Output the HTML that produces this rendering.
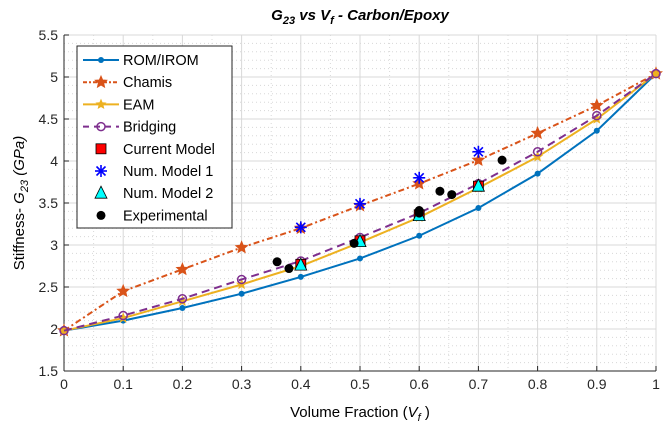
<!DOCTYPE html>
<html><head><meta charset="utf-8"><style>
body{margin:0;background:#fff;}
svg{display:block;font-family:"Liberation Sans",Arial,sans-serif;}
</style></head><body>
<svg id="chart" width="668" height="432" viewBox="0 0 668 432" xmlns="http://www.w3.org/2000/svg">
<text x="360" y="20" text-anchor="middle" font-size="15" font-weight="bold" font-style="italic">G<tspan font-size="11" dy="4">23</tspan><tspan dy="-4"> vs V</tspan><tspan font-size="11" dy="4">f</tspan><tspan dy="-4">  -  Carbon/Epoxy</tspan></text>
<g id="grid"></g>
<g id="axes"></g>
<g id="series"></g>
<text x="360" y="417" text-anchor="middle" font-size="15">Volume Fraction (<tspan font-style="italic">V</tspan><tspan font-style="italic" font-size="11" dy="4">f</tspan><tspan dy="-4"> )</tspan></text>
<text transform="translate(24,203) rotate(-90)" text-anchor="middle" font-size="15">Stiffness- <tspan font-style="italic">G</tspan><tspan font-style="italic" font-size="11" dy="4">23</tspan><tspan dy="-4" font-style="italic"> (GPa)</tspan></text>
<g id="legend"></g>
</svg>
<script>
const vf=[0,0.1,0.2,0.3,0.4,0.5,0.6,0.7,0.8,0.9,1];
const romIrom=[1.98,2.10,2.25,2.42,2.62,2.84,3.11,3.44,3.85,4.36,5.04];
const chamis=[1.98,2.45,2.71,2.97,3.20,3.47,3.73,4.01,4.33,4.66,5.04];
const eam=[1.98,2.13,2.33,2.53,2.75,3.03,3.33,3.68,4.05,4.50,5.04];
const bridging=[1.98,2.16,2.36,2.59,2.81,3.09,3.38,3.73,4.11,4.54,5.04];
const modelVf=[0.4,0.5,0.6,0.7];
const currentModel=[2.77,3.05,3.36,3.70];
const numModel1=[3.21,3.49,3.80,4.11];
const numModel2=[2.76,3.04,3.35,3.70];
const expVf=[0.36,0.38,0.49,0.60,0.60,0.635,0.655,0.74];
const expG=[2.80,2.72,3.02,3.41,3.38,3.64,3.60,4.01];
const xTicks=[0,0.1,0.2,0.3,0.4,0.5,0.6,0.7,0.8,0.9,1];
const xTickLabels=["0","0.1","0.2","0.3","0.4","0.5","0.6","0.7","0.8","0.9","1"];
const yTicks=[1.5,2,2.5,3,3.5,4,4.5,5,5.5];
const yTickLabels=["1.5","2","2.5","3","3.5","4","4.5","5","5.5"];

const L=64,R=656,T=35,B=371,Y0=1.5,Y1=5.5;
const sx=v=>L+(v-0)/(1-0)*(R-L);
const sy=v=>B-(v-Y0)/(Y1-Y0)*(B-T);
const NS="http://www.w3.org/2000/svg";
function mk(tag,attrs,parent){const e=document.createElementNS(NS,tag);for(const k in attrs)e.setAttribute(k,attrs[k]);parent.appendChild(e);return e;}
const grid=document.getElementById('grid'),axes=document.getElementById('axes'),ser=document.getElementById('series'),leg=document.getElementById('legend');
mk('rect',{x:L,y:T,width:R-L,height:B-T,fill:'#fff'},grid);
for(let i=0;i<=20;i++){const x=sx(i*0.05);const l=mk('line',{x1:x,x2:x,y1:T,y2:B,stroke:'#d8d8d8','stroke-width':1,'stroke-dasharray':i%2?'1,3':''},grid);

}
for(let i=0;i<=40;i++){const y=sy(1.5+i*0.1);const l=mk('line',{x1:L,x2:R,y1:y,y2:y,stroke:'#d8d8d8','stroke-width':1,'stroke-dasharray':i%5?'1,3':''},grid);

}
mk('line',{x1:L,x2:L,y1:T,y2:B,stroke:'#262626'},axes);
mk('line',{x1:L,x2:R,y1:B,y2:B,stroke:'#262626'},axes);
xTicks.forEach((v,i)=>{mk('line',{x1:sx(v),x2:sx(v),y1:B,y2:B-5,stroke:'#262626'},axes);
const t=mk('text',{x:sx(v),y:B+18,'text-anchor':'middle','font-size':14,fill:'#262626'},axes);t.textContent=xTickLabels[i];

});
yTicks.forEach((v,i)=>{mk('line',{x1:L,x2:L+5,y1:sy(v),y2:sy(v),stroke:'#262626'},axes);
const t=mk('text',{x:L-6,y:sy(v)+5,'text-anchor':'end','font-size':14,fill:'#262626'},axes);t.textContent=yTickLabels[i];

});

function star(cx,cy,r,fill,p){let pts=[];for(let i=0;i<10;i++){const a=-Math.PI/2+i*Math.PI/5,rr=i%2?r*0.45:r;pts.push((cx+rr*Math.cos(a)).toFixed(1)+','+(cy+rr*Math.sin(a)).toFixed(1));}return mk('polygon',{points:pts.join(' '),fill:fill,stroke:fill},p);}
function marker(type,cx,cy,p,name){let e;
if(type==='dot')e=mk('circle',{cx,cy,r:3,fill:'#0072BD'},p);
else if(type==='star')e=star(cx,cy,6,'#D95319',p);
else if(type==='ystar')e=star(cx,cy,4.5,'#EDB120',p);
else if(type==='ring')e=mk('circle',{cx,cy,r:4,fill:'none',stroke:'#7E2F8E','stroke-width':1.5},p);
else if(type==='sq')e=mk('rect',{x:cx-5,y:cy-5,width:10,height:10,fill:'#f00',stroke:'#000','stroke-width':0.8},p);
else if(type==='ast'){e=mk('g',{stroke:'#00f','stroke-width':1.6},p);[[0,-6,0,6],[-6,0,6,0],[-4.5,-4.5,4.5,4.5],[-4.5,4.5,4.5,-4.5]].forEach(s=>mk('line',{x1:cx+s[0],y1:cy+s[1],x2:cx+s[2],y2:cy+s[3]},e));}
else if(type==='tri')e=mk('polygon',{points:`${cx},${cy-7} ${cx-6},${cy+5} ${cx+6},${cy+5}`,fill:'#0ff',stroke:'#000','stroke-width':0.8},p);
else if(type==='blk')e=mk('circle',{cx,cy,r:4.5,fill:'#000'},p);

return e;}
function line(xs,ys,color,dash,w,name,mt){const pl=mk('polyline',{points:xs.map((x,i)=>sx(x)+','+sy(ys[i])).join(' '),fill:'none',stroke:color,'stroke-width':w,'stroke-dasharray':dash},ser);


xs.forEach((x,i)=>marker(mt,sx(x),sy(ys[i]),ser,name+'-point'));}
line(vf,romIrom,'#0072BD','',2,'rom-irom','dot');
line(vf,chamis,'#D95319','6,3,2,3',2,'chamis','star');
line(vf,eam,'#EDB120','',2,'eam','ystar');
line(vf,bridging,'#7E2F8E','8,5',2,'bridging','ring');
modelVf.forEach((x,i)=>marker('sq',sx(x),sy(currentModel[i]),ser,'current-model-point'));
modelVf.forEach((x,i)=>marker('ast',sx(x),sy(numModel1[i]),ser,'num-model-1-point'));
modelVf.forEach((x,i)=>marker('tri',sx(x),sy(numModel2[i]),ser,'num-model-2-point'));
expVf.forEach((x,i)=>marker('blk',sx(x),sy(expG[i]),ser,'experimental-point'));

mk('rect',{x:77,y:46,width:155,height:182,fill:'#fff',stroke:'#262626','stroke-width':1},leg);
const items=[['ROM/IROM','#0072BD','',"dot"],['Chamis','#D95319','4,2,2,2',"star"],['EAM','#EDB120','',"ystar"],['Bridging','#7E2F8E','6,5',"ring"],['Current Model',null,'',"sq"],['Num. Model 1',null,'',"ast"],['Num. Model 2',null,'',"tri"],['Experimental',null,'',"blk"]];
items.forEach((it,i)=>{const y=60+i*22.2;const g=mk('g',{},leg);


if(it[1])mk('line',{x1:83,x2:119,y1:y,y2:y,stroke:it[1],'stroke-width':2,'stroke-dasharray':it[2]},g);
marker(it[3],101,y,g,'legend-marker');
const t=mk('text',{x:123,y:y+5,'font-size':14.5,fill:'#000'},g);t.textContent=it[0];});
</script>
</body></html>
